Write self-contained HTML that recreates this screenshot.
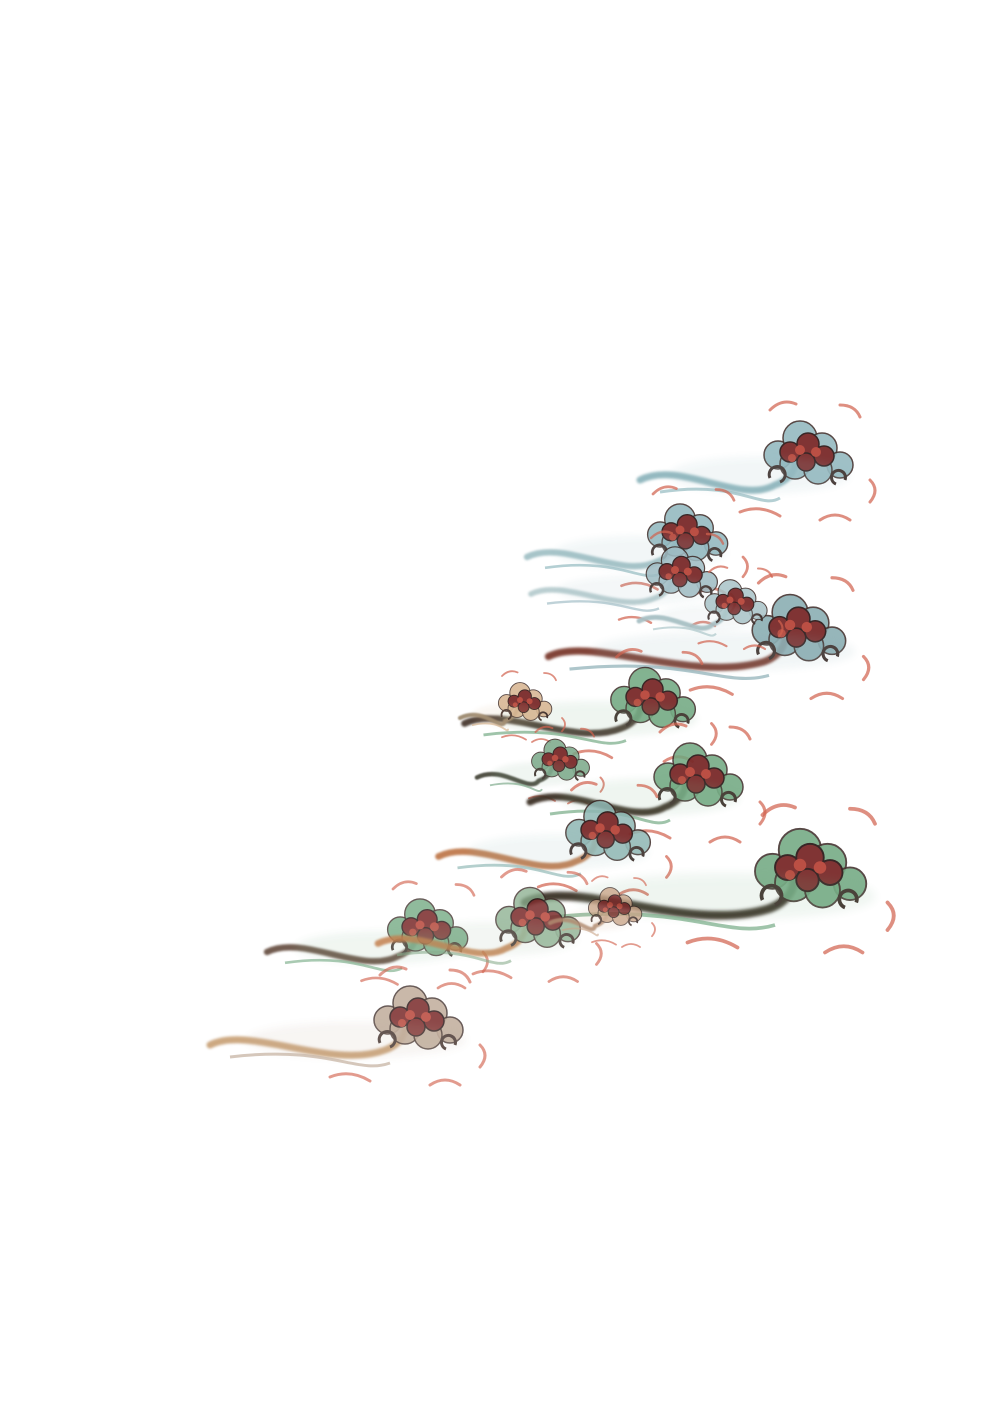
<!DOCTYPE html>
<html>
<head>
<meta charset="utf-8">
<style>
  html,body{margin:0;padding:0;background:#fff;}
  svg{display:block;}
</style>
</head>
<body>
<svg id="art" width="1000" height="1415" viewBox="0 0 1000 1415" xmlns="http://www.w3.org/2000/svg">
  <defs>
    <filter id="soft" x="-20%" y="-20%" width="140%" height="140%"><feGaussianBlur stdDeviation="1.2"/></filter>
    <filter id="blur" x="-30%" y="-30%" width="160%" height="160%"><feGaussianBlur stdDeviation="4"/></filter>
  </defs>
  <rect width="1000" height="1415" fill="#ffffff"/>
  <g id="clouds"></g>
</svg>
<script>
// cloud motif placements (centre x, centre y), scale, tail length and palette
const cloudX =     [800, 680, 675, 790, 730, 645, 520, 555, 690, 600, 800, 420, 530, 610, 410];
const cloudY =     [450, 530, 570, 625, 600, 695, 700, 758, 772, 828, 865, 925, 915, 905, 1015];
const cloudScale = [1.0, 0.9, 0.8, 1.05,0.7, 0.95,0.6, 0.65,1.0, 0.95,1.25,0.9, 0.95,0.6, 1.0];
const cloudTail =  [120, 130, 140, 190, 90,  150, 60,  80,  120, 130, 180, 130, 120, 60,  160];
const cloudOuter = ["#8fb6bd","#8fb6bd","#9fbcc4","#86aab0","#a9c4c8","#6fa77f","#d6b48f","#7aa889","#6fa77f","#8fb7b4","#6fa77f","#6fa77f","#8aae8e","#c9a487","#b9a38f"];
const cloudTailCol=["#8fb6bd","#a3c1c6","#b7cccf","#7b3a2d","#a8c0c4","#4a3a30","#9d8a70","#4a4a3c","#3e3128","#c07a4e","#3a3128","#5a4030","#c4814f","#b08a70","#c49a6c"];

const g = document.getElementById('clouds');
const NS = 'http://www.w3.org/2000/svg';
function mk(tag, attrs, parent){
  const e = document.createElementNS(NS, tag);
  for (const k in attrs) e.setAttribute(k, attrs[k]);
  parent.appendChild(e);
  return e;
}
for (let i = 0; i < cloudX.length; i++){
  const x = cloudX[i], y = cloudY[i], s = cloudScale[i], L = cloudTail[i];
  const grp = mk('g', {transform:`translate(${x},${y}) scale(${s})`, opacity: (i>=11? 0.85:0.95)}, g);
  
  
  // swirl tail
  const tail = mk('path', {d:`M ${-L-40} 30 C ${-L} 10, ${-L/2} 55, -25 35 C -5 28, 0 10, -10 5`, fill:'none', stroke:cloudTailCol[i], 'stroke-width':7, 'stroke-linecap':'round', filter:'url(#soft)'}, grp);
  
  
  mk('path', {d:`M ${-L-20} 42 C ${-L/2} 30, ${-L/3} 60, -20 48`, fill:'none', stroke:cloudOuter[i], 'stroke-width':3, opacity:0.7}, grp);
  // red wisps
  const w1 = mk('path', {d:`M ${-L/2} 62 q 20 -8 40 4 M 20 70 q 15 -10 30 0 M -30 -40 q 12 -12 26 -6 M 40 -45 q 15 0 20 12 M 70 30 q 10 10 0 22`, fill:'none', stroke:'#d2634f', 'stroke-width':3, 'stroke-linecap':'round', opacity:0.75}, grp);
  
  
  // cloud cluster: outer scallops
  const outer = mk('g', {}, grp);
  
  
  [[-22,5,14],[0,-12,17],[22,-2,15],[40,15,13],[-5,14,15],[18,20,14]].forEach(c=>{
    mk('circle',{cx:c[0],cy:c[1],r:c[2],fill:cloudOuter[i],stroke:'#3b2a26','stroke-width':1.5,opacity:0.9},outer);
  });
  [[-10,2,10],[8,-6,11],[24,6,10],[6,12,9]].forEach(c=>{
    mk('circle',{cx:c[0],cy:c[1],r:c[2],fill:'#7a2a2a',stroke:'#2e1b1b','stroke-width':1.5},outer);
  });
  [[0,0,5],[16,2,5],[-8,8,4]].forEach(c=>{
    mk('circle',{cx:c[0],cy:c[1],r:c[2],fill:'#b8463a'},outer);
  });
  // swirl curls
  mk('path',{d:'M -30 28 a 8 8 0 1 1 10 4 M 45 30 a 7 7 0 1 0 -9 4',fill:'none',stroke:'#3b2a26','stroke-width':3},grp);
  // faint halo
  mk('ellipse',{cx:-L/3,cy:25,rx:L/2+30,ry:18,fill:cloudOuter[i],opacity:0.12,filter:'url(#blur)'},grp);
}
</script>
</body>
</html>
